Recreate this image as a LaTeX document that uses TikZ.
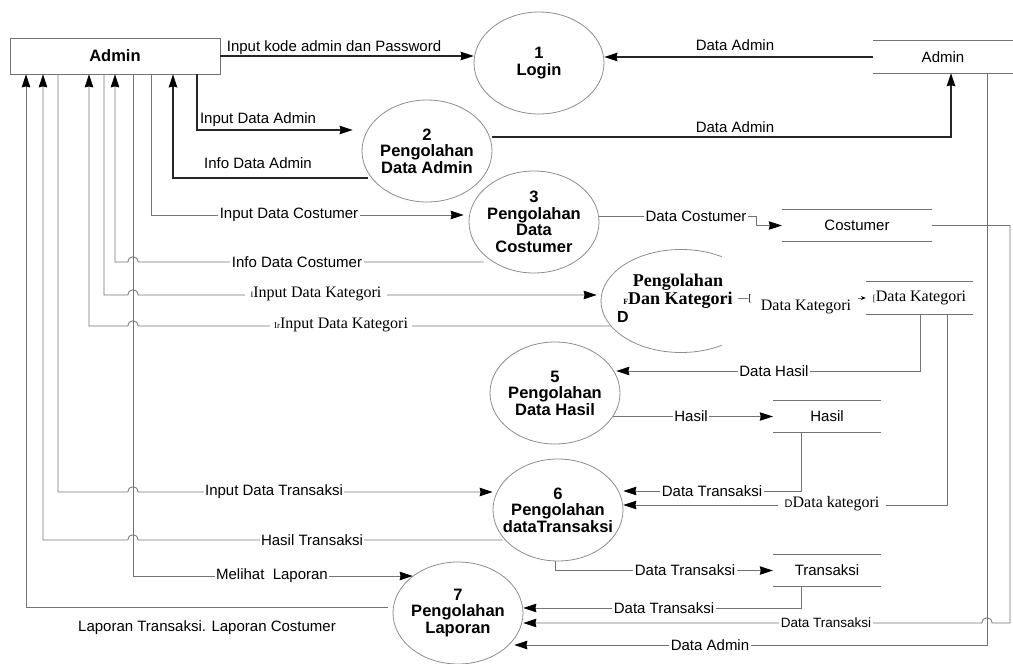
\documentclass[tikz,border=0pt]{standalone}
\usepackage{fontspec}
\setmainfont{Liberation Sans}
\newfontfamily\timesf{Liberation Serif}
\newfontfamily\arialf{Liberation Sans}
\usepackage{tikz}
\usetikzlibrary{arrows.meta, shapes.geometric, calc, positioning}
\newcommand{\hop}[3]{.. controls ({#1},{#3-7}) and ({#2},{#3-7}) .. ({#2},#3)}

\begin{document}
\begin{tikzpicture}[x=1pt, y=-1pt, >={Stealth[length=13pt, width=8.5pt, inset=1pt, color=black]},
  proc/.style={ellipse, draw=black!45, line width=.8pt, minimum width=130pt, minimum height=102pt, inner sep=0pt},
  ptext/.style={align=center, inner sep=0pt, font=\bfseries\fontsize{16.5}{16.5}\selectfont},
  store/.style={minimum height=31pt, inner sep=0pt, font=\fontsize{15}{15}\selectfont},
  flow/.style={draw=black!55, line width=.8pt},
  dflow/.style={draw=black!85, line width=1.4pt},
  lbl/.style={fill=white, inner xsep=1.5pt, inner ysep=1pt, font=\fontsize{15}{15}\selectfont},
  tlbl/.style={lbl, font=\timesf\fontsize{16}{16}\selectfont},
  olbl/.style={inner sep=1pt, font=\fontsize{15}{15}\selectfont}]
\useasboundingbox (0,0) rectangle (1013,664);

% entity
\node[draw=black!55, line width=.8pt, minimum width=210pt, minimum height=36pt, inner sep=0pt,
  font=\bfseries\fontsize{16.5}{16.5}\selectfont] (admin) at (115,56) {Admin};
\foreach \n/\x in {1/26,2/43,3/58,4/89,5/104,6/115,7/133,8/151,9/173,10/197}
  \coordinate (t\n) at (\x,0 |- admin.south);

% processes
\node[proc] (p1) at (539,63) {};
\node[proc] (p2) at (427,151) {};
\node[proc] (p3) at (534,222) {};
\node[proc, minimum width=160pt, minimum height=103pt] (p4) at (681,301) {};
\node[proc] (p5) at (555,393) {};
\node[proc] (p6) at (558,510) {};
\node[proc] (p7) at (458,613) {};
\fill[white] (722,254) rectangle (766,349);
\node[ptext] (p1t) at (p1) {1\\Login};
\node[ptext] (p2t) at (p2) {2\\Pengolahan\\Data Admin};
\node[ptext] (p3t) at (p3) {3\\Pengolahan\\Data\\Costumer};
\node[ptext] (p5t) at (p5) {5\\Pengolahan\\Data Hasil};
\node[ptext] (p6t) at (p6) {6\\Pengolahan\\dataTransaksi};
\node[ptext] (p7t) at (p7) {7\\Pengolahan\\Laporan};
\node[align=center, inner sep=0pt, font=\timesf\bfseries\fontsize{18}{18}\selectfont] (p4t) at (678,291)
  {Pengolahan\\{\fontsize{8}{8}\selectfont F}Dan Kategori};
\node[inner sep=0pt, font=\bfseries\fontsize{16}{16}\selectfont] (p4d) at (623,317) {D};
\node[inner sep=0pt, font=\timesf\fontsize{10}{10}\selectfont] (p4g) at (745,299) {—[};

% data stores
\node[store, minimum width=140pt, minimum height=32pt] (s1) at (943,57) {Admin};
\node[store, minimum width=150pt] (s2) at (857,225.5) {Costumer};
\node[store, minimum width=107pt, minimum height=32pt, font=\timesf\fontsize{16}{16}\selectfont] (s3) at (919.5,298)
  {{\fontsize{9}{9}\selectfont[}Data Kategori};
\node[store, minimum width=108pt] (s4) at (827,416.5) {Hasil};
\node[store, minimum width=108pt] (s5) at (827,570.5) {Transaksi};
\foreach \s in {s1,s2,s3,s4,s5}
  \draw[flow] (\s.north west) -- (\s.north east) (\s.south west) -- (\s.south east);

% flows of the admin
\draw[dflow,->] (admin.east) -- (p1.west |- admin.east);
\draw[dflow,->] (s1.west |- 0,57) -- (p1.east |- 0,57);
\draw[dflow,->] (t10) |- ($(p2.west |- 0,130)+(-9,0)$);
\draw[dflow,->] ($(p2.west |- 0,178)+(6,0)$) -| (t9);
\draw[dflow,->] (p2.east |- 0,137) -| (s1.south -| 951,0);

% flows on the left
\draw[flow,->] (t8) |- ($(p3.west |- 0,215)+(-5,0)$);
\draw[flow,->] ($(p3.west |- 0,262)+(15,0)$) -- (138,262) \hop{138}{128}{262} -| (t6);
\draw[flow,->] (t5) |- (128,295) \hop{128}{138}{295} -- ($(p4.west |- 0,295)+(-4,0)$);
\draw[flow,->] ($(p4.west |- 0,326)+(10,0)$) -- (138,326) \hop{138}{128}{326} -| (t4);
\draw[flow,->] (t3) |- (128,492) \hop{128}{138}{492} -- (p6.west |- 0,492);
\draw[flow,->] ($(p6.west |- 0,540)+(10,0)$) -- (138,540) \hop{138}{128}{540} -| (t2);
\draw[flow,->] (t7) |- ($(p7.west |- 0,576)+(20,0)$);
\draw[flow,->] ($(p7.west |- 0,607)+(-5,0)$) -| (t1);

% flows on the right
\draw[flow,->] (p3.east |- 0,216) -- (756,216) |- (s2.west);
\draw[flow,-{Stealth[length=5pt, width=4pt, color=black]}] (p4.east |- 0,298) -- (s3.west);
\draw[flow,->] (s3.south -| 920,0) |- ($(p5.east |- 0,371)+(-4,0)$);
\draw[flow,->] (s3.south -| 947,0) |- (p6.east |- 0,505);
\draw[flow,->] ($(p5.east |- 0,416.5)+(-7,0)$) -- (s4.west);
\draw[flow,->] (s4.south -| 801,0) |- (p6.east |- 0,491);
\draw[flow,->] (p6.south -| 555,0) |- (s5.west);
\draw[flow,->] (s5.south -| 801,0) |- (p7.east |- 0,608);
\draw[flow,->] (s2.east) -| (1010,623) -- (992,623) \hop{992}{982}{623} -- (p7.east |- 0,623);
\draw[flow,->] (s1.south -| 987,0) |- ($(p7.east |- 0,645)+(-9,0)$);

% labels
\node[olbl] (l1) at (334,48) {Input kode admin dan Password};
\node[olbl] (l2) at (258,120) {Input Data Admin};
\node[olbl] (l3) at (258,163) {Info Data Admin};
\node[olbl] (l4) at (735,45) {Data Admin};
\node[olbl] (l5) at (735,127) {Data Admin};
\node[lbl] (l6) at (289,215) {Input Data Costumer};
\node[lbl] (l7) at (297,262) {Info Data Costumer};
\node[tlbl, inner xsep=6pt] (l8) at (316,294) {{\fontsize{8}{8}\selectfont I}Input Data Kategori};
\node[tlbl, inner xsep=4pt] (l9) at (341,325) {{\fontsize{9}{9}\selectfont Ir}Input Data Kategori};
\node[lbl] (l10) at (696,216) {Data Costumer};
\node[tlbl, minimum width=103pt, minimum height=40pt] (l11) at (806,307) {Data Kategori};
\node[lbl] (l12) at (774,371) {Data Hasil};
\node[lbl] (l13) at (691,416.5) {Hasil};
\node[lbl] (l14) at (712,491) {Data Transaksi};
\node[tlbl, inner xsep=7pt] (l15) at (832,504) {{\arialf\fontsize{11}{11}\selectfont D}Data kategori};
\node[lbl] (l16) at (685,570.5) {Data Transaksi};
\node[lbl] (l17) at (664,608) {Data Transaksi};
\node[lbl, font=\fontsize{13.5}{13.5}\selectfont] (l18) at (826,623) {Data Transaksi};
\node[lbl] (l19) at (710,645) {Data Admin};
\node[lbl] (l20) at (274,492) {Input Data Transaksi};
\node[lbl] (l21) at (312,540) {Hasil Transaksi};
\node[lbl] (l22) at (272,576) {Melihat\ \ Laporan};
\node[olbl] (l23) at (207,628) {Laporan Transaksi. Laporan Costumer};

\end{tikzpicture}
\end{document}
